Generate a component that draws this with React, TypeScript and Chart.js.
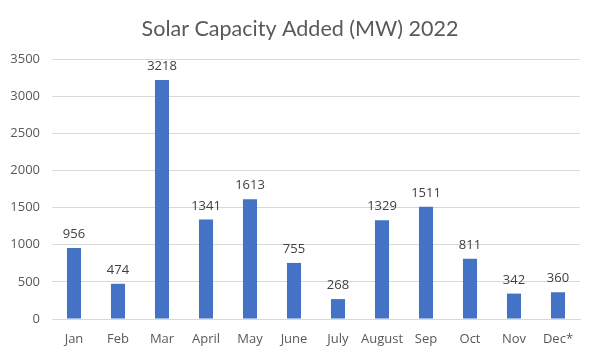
import React, { useEffect, useRef } from "react";
import { Chart, registerables } from "chart.js";

Chart.register(...registerables);

const chartTitle = "Solar Capacity Added (MW) 2022";
const months = ["Jan", "Feb", "Mar", "April", "May", "June", "July", "August", "Sep", "Oct", "Nov", "Dec*"];
const capacityMW = [956, 474, 3218, 1341, 1613, 755, 268, 1329, 1511, 811, 342, 360];
const yTicks = [0, 500, 1000, 1500, 2000, 2500, 3000, 3500];

const FONT = "'Open Sans', 'Noto Sans', sans-serif";
const TITLE_FONT = "Lato, 'Open Sans', sans-serif";

const dataLabels = {
  id: "dataLabels",
  afterDatasetsDraw(chart: any) {
    const ctx = chart.ctx;
    const meta = chart.getDatasetMeta(0);
    ctx.save();
    ctx.font = `13px ${FONT}`;
    ctx.fillStyle = "#404040";
    ctx.textAlign = "center";
    ctx.textBaseline = "bottom";
    meta.data.forEach((bar: any, i: number) => {
      ctx.fillText(String(capacityMW[i]), bar.x, bar.y - 7);
    });
    // chart title
    ctx.font = `21.5px ${TITLE_FONT}`;
    ctx.fillStyle = "#595959";
    ctx.textBaseline = "alphabetic";
    ctx.fillText(chartTitle, chart.width / 2 + 2, 36);
    ctx.restore();
  },
};

export default function App() {
  const ref = useRef<HTMLCanvasElement>(null);
  useEffect(() => {
    if (!ref.current) return;
    const chart = new Chart(ref.current, {
      type: "bar",
      data: {
        labels: months,
        datasets: [
          {
            data: capacityMW,
            backgroundColor: "#4472C4",
            categoryPercentage: 1,
            barPercentage: 0.32,
          },
        ],
      },
      options: {
        animation: false,
        responsive: false,
        layout: { padding: { left: 0, right: 16, top: 59, bottom: 0 } },
        plugins: {
          legend: { display: false },
          tooltip: { enabled: false },
          title: { display: false },
        },
        scales: {
          x: {
            grid: { display: false, drawTicks: false },
            border: { display: true, color: "#D9D9D9" },
            ticks: { color: "#595959", font: { family: FONT, size: 13 }, padding: 12, maxRotation: 0, autoSkip: false },
            afterFit(scale: any) {
              scale.height = 38;
            },
          },
          y: {
            min: 0,
            max: 3500,
            afterBuildTicks(scale: any) {
              scale.ticks = yTicks.map((v) => ({ value: v }));
            },
            grid: { color: "#D9D9D9", drawTicks: false },
            border: { display: false },
            ticks: {
              color: "#595959",
              font: { family: FONT, size: 13 },
              padding: 12,
              callback: (v: any) => String(v),
            },
            afterFit(scale: any) {
              scale.width = 52;
            },
          },
        },
      },
      plugins: [dataLabels],
    });
    return () => chart.destroy();
  }, []);
  return (
    <div style={{ position: "fixed", left: 0, top: 0, width: 596, height: 357, background: "#fff" }}>
      <canvas ref={ref} width={596} height={357} />
    </div>
  );
}
